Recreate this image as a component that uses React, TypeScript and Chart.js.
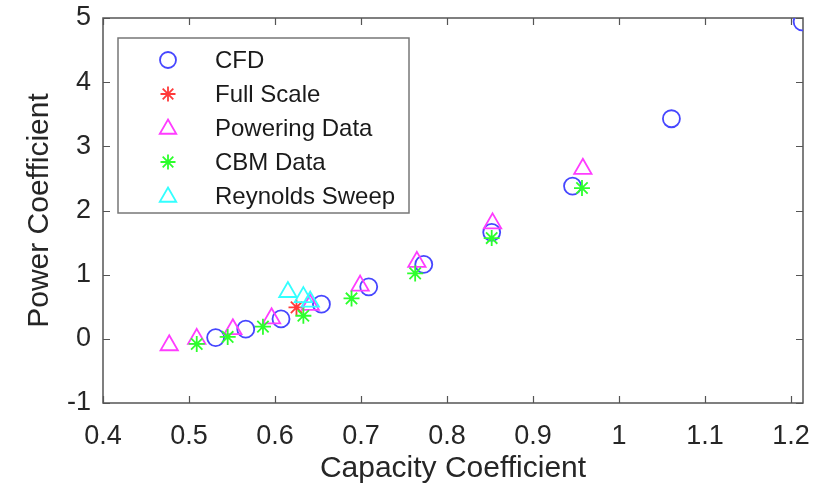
import React, { useEffect, useRef } from 'react';
import { Chart, registerables } from 'chart.js';
Chart.register(...registerables);

const cfdX = [0.531, 0.566, 0.607, 0.654, 0.709, 0.773, 0.852, 0.946, 1.061, 1.213];
const cfdY = [0.02, 0.15, 0.31, 0.54, 0.81, 1.16, 1.66, 2.38, 3.43, 4.94];
const fullScaleX = [0.625];
const fullScaleY = [0.49];
const poweringX = [0.477, 0.509, 0.551, 0.596, 0.641, 0.699, 0.765, 0.853, 0.958];
const poweringY = [-0.1, 0.0, 0.15, 0.32, 0.53, 0.83, 1.2, 1.8, 2.65];
const cbmX = [0.509, 0.545, 0.586, 0.633, 0.689, 0.763, 0.852, 0.957];
const cbmY = [-0.08, 0.03, 0.19, 0.36, 0.63, 1.02, 1.57, 2.35];
const reynoldsX = [0.615, 0.633, 0.641];
const reynoldsY = [0.73, 0.65, 0.58];

const xTicks = [0.4, 0.5, 0.6, 0.7, 0.8, 0.9, 1.0, 1.1, 1.2];
const yTicks = [-1, 0, 1, 2, 3, 4, 5];
const xMin = 0.4;
const xMax = 1.214;
const yMin = -1;
const yMax = 5;

const xTitle = 'Capacity Coefficient';
const yTitle = 'Power Coefficient';

const seriesNames = ['CFD', 'Full Scale', 'Powering Data', 'CBM Data', 'Reynolds Sweep'];
const seriesColors = ['#4646ff', '#ff3a3a', '#ff3cff', '#2cff2c', '#33ffff'];
const seriesStyles = ['circle', 'star', 'triangle', 'star', 'triangle'];
const seriesRadius = [8.5, 8, 10, 8, 10];

const FONT = "'Liberation Sans', Arial, sans-serif";
const TEXT = '#262626';

function zip(xs: number[], ys: number[]) {
  return xs.map((x, i) => ({ x, y: ys[i] }));
}

function drawMarker(ctx: CanvasRenderingContext2D, style: string, x: number, y: number, r: number, color: string) {
  ctx.save();
  ctx.strokeStyle = color;
  ctx.lineWidth = 1.8;
  ctx.beginPath();
  if (style === 'circle') {
    ctx.arc(x, y, r, 0, Math.PI * 2);
  } else if (style === 'triangle') {
    let a = 0;
    ctx.moveTo(x + Math.sin(a) * r, y - Math.cos(a) * r);
    a += (Math.PI * 2) / 3;
    ctx.lineTo(x + Math.sin(a) * r, y - Math.cos(a) * r);
    a += (Math.PI * 2) / 3;
    ctx.lineTo(x + Math.sin(a) * r, y - Math.cos(a) * r);
    ctx.closePath();
  } else {
    for (let k = 0; k < 4; k++) {
      const a = (k * Math.PI) / 4;
      ctx.moveTo(x - Math.cos(a) * r, y - Math.sin(a) * r);
      ctx.lineTo(x + Math.cos(a) * r, y + Math.sin(a) * r);
    }
  }
  ctx.stroke();
  ctx.restore();
}

const framePlugin = {
  id: 'frame',
  beforeDatasetsDraw(chart: any) {
    const { ctx, chartArea: a, scales } = chart;
    const xs = scales.x;
    const ys = scales.y;
    ctx.save();
    ctx.strokeStyle = '#555555';
    ctx.lineWidth = 1.5;
    ctx.strokeRect(a.left, a.top, a.right - a.left, a.bottom - a.top);
    const tl = 7;
    ctx.beginPath();
    xTicks.forEach((v) => {
      const px = Math.round(xs.getPixelForValue(v)) + 0.5;
      ctx.moveTo(px, a.bottom);
      ctx.lineTo(px, a.bottom - tl);
      ctx.moveTo(px, a.top);
      ctx.lineTo(px, a.top + tl);
    });
    yTicks.forEach((v) => {
      const py = Math.round(ys.getPixelForValue(v)) + 0.5;
      ctx.moveTo(a.left, py);
      ctx.lineTo(a.left + tl, py);
      ctx.moveTo(a.right, py);
      ctx.lineTo(a.right - tl, py);
    });
    ctx.lineWidth = 1.2;
    ctx.stroke();

    // axis titles
    ctx.fillStyle = TEXT;
    ctx.font = `30px ${FONT}`;
    ctx.textAlign = 'center';
    ctx.textBaseline = 'middle';
    ctx.fillText(xTitle, (a.left + a.right) / 2, 469);
    ctx.translate(40, (a.top + a.bottom) / 2);
    ctx.rotate(-Math.PI / 2);
    ctx.fillText(yTitle, 0, 0);
    ctx.restore();
  },
};

const legendPlugin = {
  id: 'boxLegend',
  afterDatasetsDraw(chart: any) {
    const { ctx } = chart;
    const bx = 118;
    const by = 38;
    const bw = 291;
    const bh = 175;
    ctx.save();
    ctx.fillStyle = '#ffffff';
    ctx.fillRect(bx, by, bw, bh);
    ctx.strokeStyle = '#777777';
    ctx.lineWidth = 1.5;
    ctx.strokeRect(bx, by, bw, bh);
    ctx.font = `24px ${FONT}`;
    ctx.fillStyle = '#1a1a1a';
    ctx.textAlign = 'left';
    ctx.textBaseline = 'middle';
    seriesNames.forEach((name, i) => {
      const cy = by + 22 + i * 34;
      drawMarker(ctx, seriesStyles[i], 168, cy + (seriesStyles[i] === 'triangle' ? 1 : 0), seriesRadius[i] - 0.5, seriesColors[i]);
      ctx.fillText(name, 215, cy + 1);
    });
    ctx.restore();
  },
};

export default function App() {
  const ref = useRef<HTMLCanvasElement | null>(null);
  useEffect(() => {
    if (!ref.current) return;
    const sets = [
      zip(cfdX, cfdY),
      zip(fullScaleX, fullScaleY),
      zip(poweringX, poweringY),
      zip(cbmX, cbmY),
      zip(reynoldsX, reynoldsY),
    ];
    const chart = new Chart(ref.current, {
      type: 'scatter',
      data: {
        datasets: sets.map((d, i) => ({
          label: seriesNames[i],
          data: d,
          pointStyle: seriesStyles[i] as any,
          pointRadius: seriesRadius[i],
          pointBorderColor: seriesColors[i],
          pointBackgroundColor: 'rgba(0,0,0,0)',
          pointBorderWidth: 1.8,
          borderColor: seriesColors[i],
          backgroundColor: 'rgba(0,0,0,0)',
          showLine: false,
          order: 5 - i,
        })),
      },
      options: {
        responsive: false,
        animation: false,
        events: [],
        layout: { padding: { top: 18, right: 13, left: 0, bottom: 0 } },
        plugins: {
          legend: { display: false },
          tooltip: { enabled: false },
          title: { display: false },
        },
        scales: {
          x: {
            type: 'linear',
            min: xMin,
            max: xMax,
            afterBuildTicks: (s: any) => {
              s.ticks = xTicks.map((v) => ({ value: v }));
            },
            afterFit: (s: any) => {
              s.height = 84;
              s.paddingLeft = 0;
              s.paddingRight = 0;
            },
            grid: { display: false, drawTicks: false },
            border: { display: false },
            ticks: {
              padding: 17,
              color: TEXT,
              font: { family: FONT, size: 27 },
              maxRotation: 0,
              callback: (v: any) => String(Number(Number(v).toFixed(1))),
            },
          },
          y: {
            type: 'linear',
            min: yMin,
            max: yMax,
            afterBuildTicks: (s: any) => {
              s.ticks = yTicks.map((v) => ({ value: v }));
            },
            afterFit: (s: any) => {
              s.width = 103;
              s.paddingTop = 0;
              s.paddingBottom = 0;
            },
            grid: { display: false, drawTicks: false },
            border: { display: false },
            ticks: {
              padding: 12,
              color: TEXT,
              font: { family: FONT, size: 27 },
              callback: (v: any) => String(v),
            },
          },
        },
      },
      plugins: [framePlugin, legendPlugin],
    });
    return () => chart.destroy();
  }, []);
  return (
    <div style={{ position: 'fixed', left: 0, top: 0, width: 816, height: 487, background: '#fff' }}>
      <canvas ref={ref} width={816} height={487} style={{ width: 816, height: 487, display: 'block' }} />
    </div>
  );
}
